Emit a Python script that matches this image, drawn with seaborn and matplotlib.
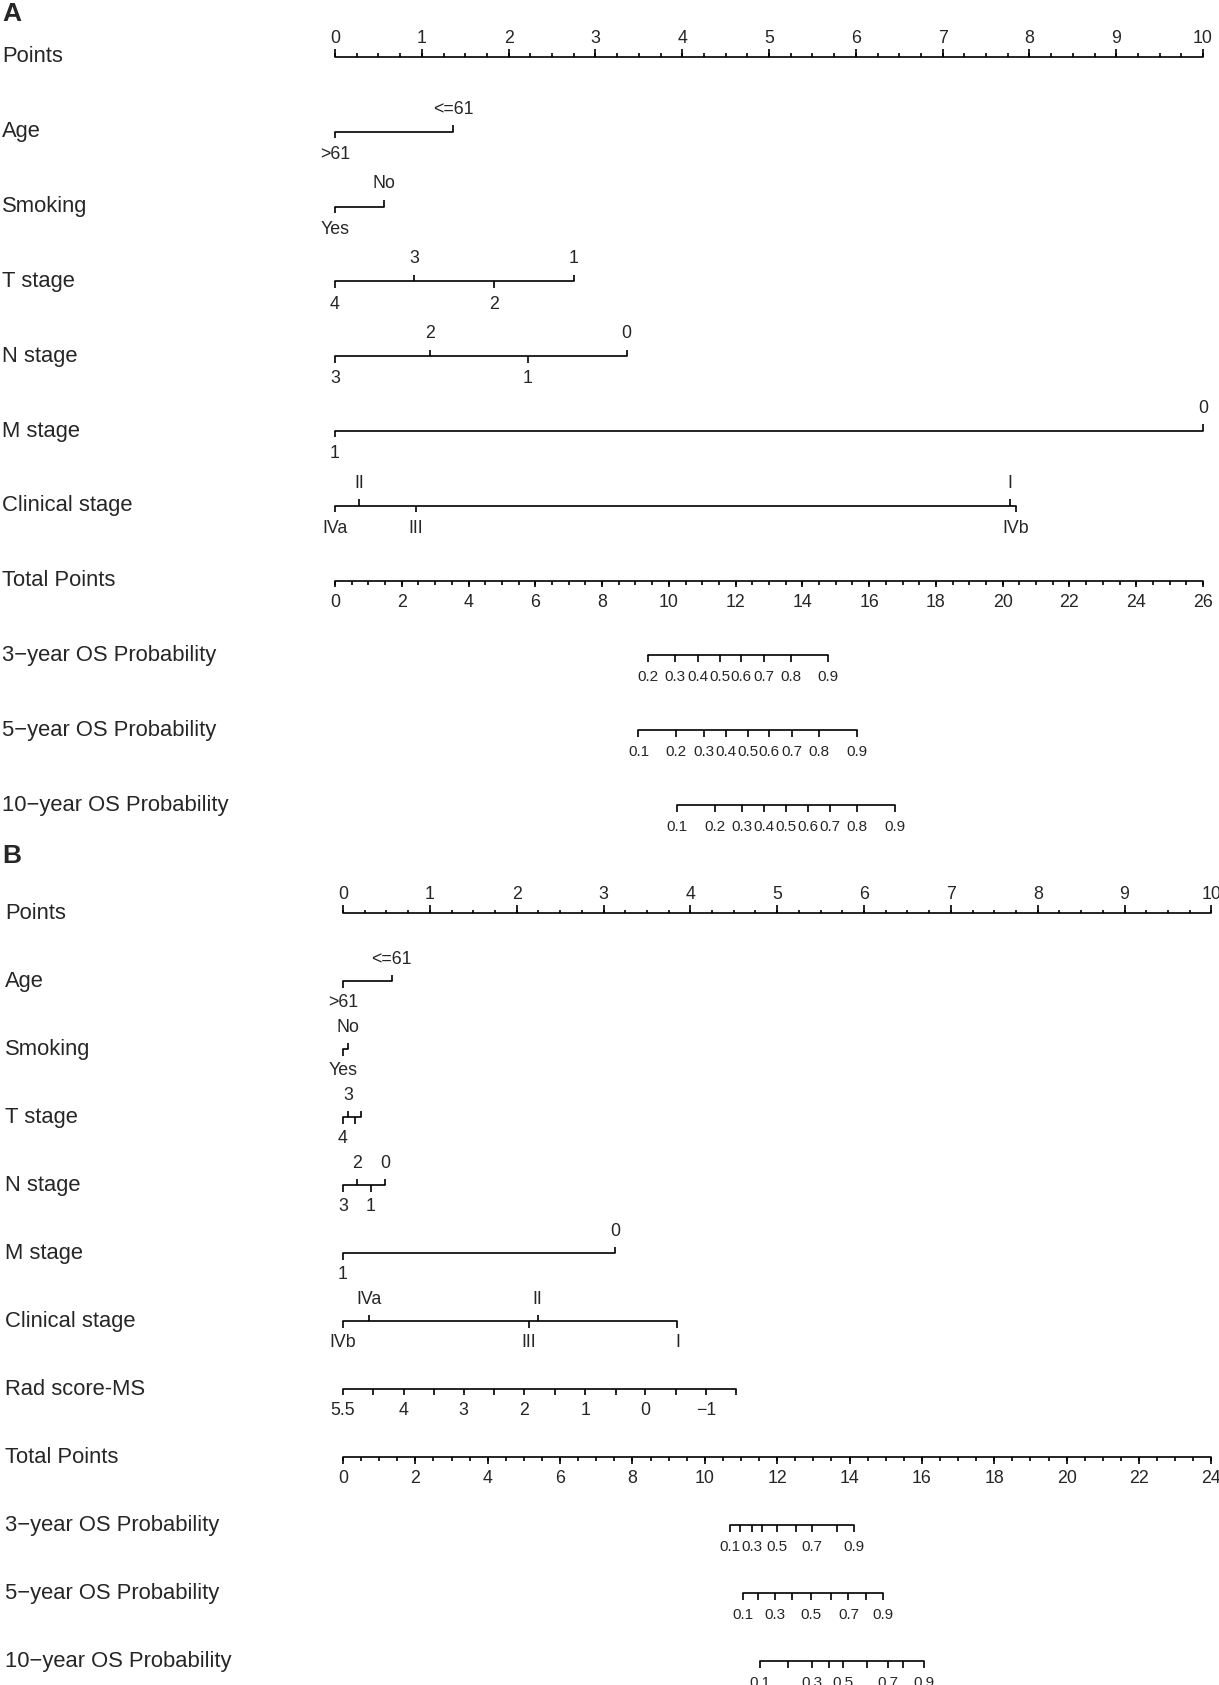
import numpy as np
import pandas as pd
import matplotlib
matplotlib.use("Agg")
import matplotlib.pyplot as plt
import seaborn as sns

sns.set_style("white")
plt.rcParams['font.family'] = ['Liberation Sans', 'DejaVu Sans']

W, H = 1219, 1685
LW = 1.2

# ---- panel A data (values in nomogram points, 0-10) ----
a_rows = ["Points", "Age", "Smoking", "T stage", "N stage", "M stage", "Clinical stage",
          "Total Points", "3\u2212year OS Probability", "5\u2212year OS Probability",
          "10\u2212year OS Probability"]
a_age_lab = [">61", "<=61"]
a_age_pts = [0, 1.36]
a_smk_lab = ["Yes", "No"]
a_smk_pts = [0, 0.56]
a_t_lab = ["4", "3", "2", "1"]
a_t_pts = [0, 0.91, 1.83, 2.75]
a_n_lab = ["3", "2", "1", "0"]
a_n_pts = [0, 1.10, 2.22, 3.36]
a_m_lab = ["1", "0"]
a_m_pts = [0, 10]
a_cs_lab = ["IVa", "II", "III", "I", "IVb"]
a_cs_pts = [0, 0.28, 0.93, 7.78, 7.84]
a_total_max = 26
prob_lab = ["0.1", "0.2", "0.3", "0.4", "0.5", "0.6", "0.7", "0.8", "0.9"]
# probability scales, positions in total points
a_p3_lab = prob_lab[1:]
a_p3_tot = [9.37, 10.19, 10.87, 11.52, 12.17, 12.85, 13.67, 14.78]
a_p5_tot = [9.09, 10.22, 11.04, 11.72, 12.38, 13.01, 13.70, 14.49, 15.63]
a_p10_tot = [10.24, 11.37, 12.19, 12.86, 13.52, 14.17, 14.82, 15.64, 16.78]

# ---- panel B data ----
b_rows = ["Points", "Age", "Smoking", "T stage", "N stage", "M stage", "Clinical stage",
          "Rad score-MS", "Total Points", "3\u2212year OS Probability",
          "5\u2212year OS Probability", "10\u2212year OS Probability"]
b_age_pts = [0, 0.56]
b_smk_pts = [0, 0.055]
b_t_pts = [0, 0.063, 0.135, 0.21]
b_t_show = [True, True, False, False]
b_n_pts = [0, 0.166, 0.32, 0.485]
b_m_pts = [0, 3.13]
b_cs_lab = ["IVb", "IVa", "III", "II", "I"]
b_cs_pts = [0, 0.30, 2.14, 2.24, 3.85]
b_rad_lab = ["5.5", "", "4", "", "3", "", "2", "", "1", "", "0", "", "\u22121", ""]
b_rad_pts = [0, 0.35, 0.70, 1.05, 1.39, 1.74, 2.09, 2.44, 2.79, 3.14, 3.48, 3.83, 4.18, 4.53]
b_total_max = 24
b_p3_tot = [10.70, 10.98, 11.30, 11.57, 11.99, 12.52, 12.96, 13.66, 14.13]
b_p5_tot = [11.05, 11.48, 11.94, 12.42, 12.94, 13.48, 13.97, 14.46, 14.92]
b_p10_tot = [11.53, 12.31, 12.97, 13.42, 13.83, 14.48, 15.06, 15.49, 16.06]
b_prob_show = [True, False, True, False, True, False, True, False, True]

fig = plt.figure(figsize=(W / 100, H / 100), dpi=100)


def make_panel(top, bot, row0, gap, x0, unit):
    ax = fig.add_axes([0, 1 - bot / H, 1, (bot - top) / H])
    ax.gap = gap
    ax.x0 = x0
    ax.unit = unit
    return ax


def finish(ax, top, bot, row0):
    ax.set_xlim(-ax.x0 / ax.unit, (W - ax.x0) / ax.unit)
    ax.set_ylim((bot - row0) / ax.gap, (top - row0) / ax.gap)
    ax.axis("off")


def hline(ax, x1, x2, y):
    seg = pd.DataFrame({"x": [x1, x2], "y": [y, y]})
    sns.lineplot(data=seg, x="x", y="y", ax=ax, color="black", lw=LW,
                 estimator=None, sort=False, legend=False)


def ticks(ax, xs, y, length_px, up):
    d = length_px / ax.gap
    ax.vlines(xs, y, y - d if up else y + d, color="black", lw=LW)


def label(ax, x, y, s, off, size):
    ax.annotate(s, (x, y), xytext=(0, off), textcoords="offset points",
                ha="center", va="center", fontsize=size)


def row_names(ax, names, lx):
    for i, nm in enumerate(names):
        ax.text((lx - ax.x0) / ax.unit, i, nm, fontsize=15.8, ha="left", va="center")


def points_axis(ax, y, off):
    hline(ax, 0, 10, y)
    major = np.arange(0, 11)
    minor = np.arange(0, 10.01, 0.25)
    ticks(ax, minor, y, 3.5, True)
    ticks(ax, major, y, 7.7, True)
    for v in major:
        label(ax, v, y, str(v), off, 12.8)


def cat_axis(ax, y, labs, pts, off, show=None):
    if show is None:
        show = [True] * len(labs)
    hline(ax, min(pts), max(pts), y)
    order = np.argsort(pts, kind="stable")
    for k, i in enumerate(order):
        up = k % 2 == 1
        ticks(ax, [pts[i]], y, 6.5, up)
        if show[i]:
            label(ax, pts[i], y, labs[i], off if up else -off, 12.8)


def total_axis(ax, y, tmax, off):
    f = 10 / tmax
    hline(ax, 0, tmax * f, y)
    ticks(ax, np.arange(0, tmax + 0.01, 0.5) * f, y, 4, False)
    major = np.arange(0, tmax + 1, 2)
    ticks(ax, major * f, y, 6.7, False)
    for v in major:
        label(ax, v * f, y, str(v), -off, 12.8)


def prob_axis(ax, y, tot, labs, tmax, off, show=None):
    if show is None:
        show = [True] * len(labs)
    f = 10 / tmax
    xs = np.array(tot) * f
    hline(ax, xs.min(), xs.max(), y)
    ticks(ax, xs, y, 7, False)
    for x, s, sh in zip(xs, labs, show):
        if sh:
            label(ax, x, y, s, -off, 11)


# ---- Panel A ----
A_top, A_bot, A_row0, A_gap = 0, 840, 57, 74.8
axA = make_panel(A_top, A_bot, A_row0, A_gap, 335, 86.8)
row_names(axA, a_rows, 2)
points_axis(axA, 0, 13.2)
cat_axis(axA, 1, a_age_lab, a_age_pts, 16.3)
cat_axis(axA, 2, a_smk_lab, a_smk_pts, 16.3)
cat_axis(axA, 3, a_t_lab, a_t_pts, 16.3)
cat_axis(axA, 4, a_n_lab, a_n_pts, 16.3)
cat_axis(axA, 5, a_m_lab, a_m_pts, 16.3)
cat_axis(axA, 6, a_cs_lab, a_cs_pts, 16.3)
total_axis(axA, 7, a_total_max, 15.5)
prob_axis(axA, 8, a_p3_tot, a_p3_lab, a_total_max, 15.5)
prob_axis(axA, 9, a_p5_tot, prob_lab, a_total_max, 15.5)
prob_axis(axA, 10, a_p10_tot, prob_lab, a_total_max, 15.5)
finish(axA, A_top, A_bot, A_row0)

# ---- Panel B ----
B_top, B_bot, B_row0, B_gap = 840, 1685, 913, 68.0
axB = make_panel(B_top, B_bot, B_row0, B_gap, 343, 86.84)
row_names(axB, b_rows, 5)
points_axis(axB, 0, 13.5)
cat_axis(axB, 1, a_age_lab, b_age_pts, 15.5)
cat_axis(axB, 2, a_smk_lab, b_smk_pts, 15.5)
cat_axis(axB, 3, a_t_lab, b_t_pts, 15.5, b_t_show)
cat_axis(axB, 4, a_n_lab, b_n_pts, 15.5)
cat_axis(axB, 5, a_m_lab, b_m_pts, 15.5)
cat_axis(axB, 6, b_cs_lab, b_cs_pts, 15.5)
hline(axB, min(b_rad_pts), max(b_rad_pts), 7)
ticks(axB, b_rad_pts, 7, 6, False)
for x, s in zip(b_rad_pts, b_rad_lab):
    if s:
        label(axB, x, 7, s, -15.5, 12.8)
total_axis(axB, 8, b_total_max, 15.5)
prob_axis(axB, 9, b_p3_tot, prob_lab, b_total_max, 15.5, b_prob_show)
prob_axis(axB, 10, b_p5_tot, prob_lab, b_total_max, 15.5, b_prob_show)
prob_axis(axB, 11, b_p10_tot, prob_lab, b_total_max, 15.5, b_prob_show)
finish(axB, B_top, B_bot, B_row0)

fig.text(2 / W, 1 - 14 / H, "A", fontsize=19, fontweight="bold", va="center", ha="left")
fig.text(2 / W, 1 - 856 / H, "B", fontsize=19, fontweight="bold", va="center", ha="left")

fig.savefig("out.png", dpi=100)
